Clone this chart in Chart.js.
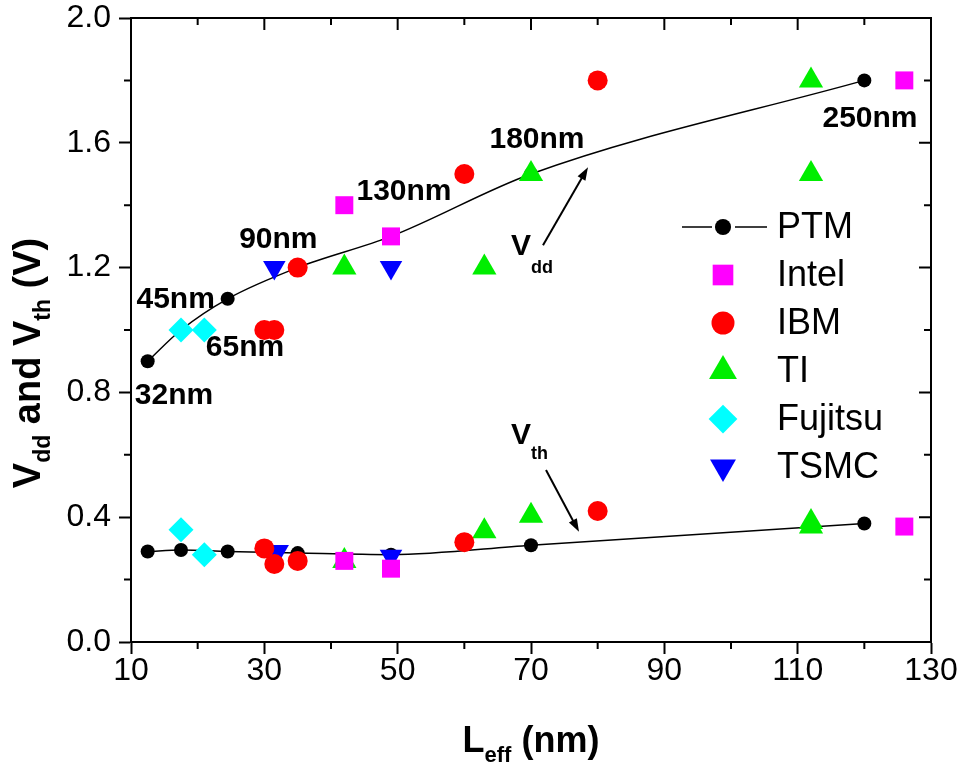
<!DOCTYPE html>
<html>
<head>
<meta charset="utf-8">
<script src="https://cdn.jsdelivr.net/npm/chart.js@4.4.0/dist/chart.umd.min.js"></script>
<style>
  html, body { margin: 0; padding: 0; background: #fff; }
  #wrap { width: 960px; height: 765px; }
</style>
</head>
<body>
<div id="wrap"><canvas id="chart" width="960" height="765"></canvas></div>
<script>
// effective channel length (nm) vs supply / threshold voltage (V)
const ptmLeff = [12.5, 17.5, 24.5, 35, 49, 70, 120]
const ptmVdd = [0.9, 1.0, 1.1, 1.2, 1.3, 1.5, 1.8]
const ptmVth = [0.29, 0.295, 0.29, 0.285, 0.28, 0.31, 0.38]

const intelLeff = [42, 49, 126, 42, 49, 126]
const intelV = [1.4, 1.3, 1.8, 0.26, 0.235, 0.37]

const ibmLeff = [30, 31.5, 35, 60, 80, 30, 31.5, 35, 60, 80]
const ibmV = [1.0, 1.0, 1.2, 1.5, 1.8, 0.3, 0.25, 0.26, 0.32, 0.42]

const tiLeff = [42, 63, 70, 112, 112, 42, 63, 70, 112, 112]
const tiV = [1.2, 1.2, 1.5, 1.8, 1.5, 0.26, 0.355, 0.405, 0.385, 0.37]

const fujitsuLeff = [17.5, 21, 17.5, 21]
const fujitsuV = [1.0, 1.0, 0.36, 0.28]

const tsmcLeff = [31.5, 49, 32, 49]
const tsmcV = [1.2, 1.2, 0.29, 0.275]

const xTicks = [10, 30, 50, 70, 90, 110, 130]
const yTicks = [0.0, 0.4, 0.8, 1.2, 1.6, 2.0]
const nodeLabels = ["32nm", "45nm", "65nm", "90nm", "130nm", "180nm", "250nm"]

const pts = (xs, ys) => xs.map((v, i) => ({ x: v, y: ys[i] }))
const midpoints = (arr) => arr.slice(1).map((v, i) => (v + arr[i]) / 2)

const FONT = "'Liberation Sans', Arial, sans-serif"
const NARROW = "'Liberation Sans Narrow', 'Arial Narrow', 'Liberation Sans', Arial, sans-serif"

// where the node names and arrows sit, in axis units
const nodeLabelAt = [[16.45, 0.79], [16.7, 1.096], [27.1, 0.942], [32.1, 1.288], [50.95, 1.442], [70.9, 1.609], [120.85, 1.676]]

function drawArrow(ctx, x0, y0, x1, y1) {
  const ang = Math.atan2(y1 - y0, x1 - x0)
  const head = 13
  ctx.beginPath()
  ctx.moveTo(x0, y0)
  ctx.lineTo(x1 - Math.cos(ang) * head * 0.8, y1 - Math.sin(ang) * head * 0.8)
  ctx.lineWidth = 2
  ctx.strokeStyle = "#000"
  ctx.stroke()
  ctx.beginPath()
  ctx.moveTo(x1, y1)
  ctx.lineTo(x1 - Math.cos(ang) * head + Math.sin(ang) * 4.5, y1 - Math.sin(ang) * head - Math.cos(ang) * 4.5)
  ctx.lineTo(x1 - Math.cos(ang) * head - Math.sin(ang) * 4.5, y1 - Math.sin(ang) * head + Math.cos(ang) * 4.5)
  ctx.closePath()
  ctx.fillStyle = "#000"
  ctx.fill()
}

// text with subscripts: parts = [[text, isSub], ...]
function subText(ctx, parts, x0, base, big, small, drop) {
  let cx = x0
  parts.forEach(([t, sub]) => {
    ctx.font = "bold " + (sub ? small : big) + "px " + FONT
    ctx.fillText(t, cx, sub ? base + drop : base)
    cx += ctx.measureText(t).width
  })
}
function subWidth(ctx, parts, big, small) {
  return parts.reduce((w, [t, sub]) => {
    ctx.font = "bold " + (sub ? small : big) + "px " + FONT
    return w + ctx.measureText(t).width
  }, 0)
}

function marker(ctx, ds, x, y, k) {
  const opts = {
    pointStyle: ds.pointStyle || "circle",
    radius: ds.pointRadius * k,
    rotation: ds.rotation || 0,
    borderWidth: 0
  }
  ctx.fillStyle = ds.pointBackgroundColor
  ctx.strokeStyle = ds.pointBackgroundColor
  Chart.helpers.drawPoint(ctx, opts, x, y)
}

const annotations = {
  id: "annotations",
  afterDraw(chart) {
    const { ctx, chartArea: a, scales: { x, y } } = chart
    ctx.save()

    // frame: top and right axes with inward ticks, minor ticks on all sides
    ctx.strokeStyle = "#000"
    ctx.lineWidth = 2
    ctx.beginPath()
    ctx.moveTo(a.left, a.top)
    ctx.lineTo(a.right, a.top)
    ctx.lineTo(a.right, a.bottom)
    ctx.stroke()
    ctx.beginPath()
    xTicks.forEach(v => {
      const px = x.getPixelForValue(v)
      ctx.moveTo(px, a.top); ctx.lineTo(px, a.top + 12)
    })
    midpoints(xTicks).forEach(v => {
      const px = x.getPixelForValue(v)
      ctx.moveTo(px, a.top); ctx.lineTo(px, a.top + 7)
      ctx.moveTo(px, a.bottom); ctx.lineTo(px, a.bottom + 7)
    })
    yTicks.forEach(v => {
      const py = y.getPixelForValue(v)
      ctx.moveTo(a.right, py); ctx.lineTo(a.right - 12, py)
    })
    midpoints(yTicks).forEach(v => {
      const py = y.getPixelForValue(v)
      ctx.moveTo(a.right, py); ctx.lineTo(a.right - 7, py)
      ctx.moveTo(a.left, py); ctx.lineTo(a.left - 7, py)
    })
    ctx.stroke()

    // node names
    ctx.fillStyle = "#000"
    ctx.font = "bold 30px " + FONT
    ctx.textAlign = "center"
    ctx.textBaseline = "middle"
    nodeLabels.forEach((t, i) => {
      ctx.fillText(t, x.getPixelForValue(nodeLabelAt[i][0]), y.getPixelForValue(nodeLabelAt[i][1]))
    })

    // Vdd / Vth callouts
    ctx.textAlign = "left"
    ctx.textBaseline = "alphabetic"
    subText(ctx, [["V", false], ["dd", true]], x.getPixelForValue(67.0), y.getPixelForValue(1.24), 30, 18, 18)
    subText(ctx, [["V", false], ["th", true]], x.getPixelForValue(67.0), y.getPixelForValue(0.635), 30, 18, 15)
    drawArrow(ctx, x.getPixelForValue(71.8), y.getPixelForValue(1.272), x.getPixelForValue(78.55), y.getPixelForValue(1.522))
    drawArrow(ctx, x.getPixelForValue(72.25), y.getPixelForValue(0.551), x.getPixelForValue(77.2), y.getPixelForValue(0.353))

    // axis titles
    ctx.fillStyle = "#000"
    const xt = [["L", false], ["eff", true], [" (nm)", false]]
    const xw = subWidth(ctx, xt, 36, 22)
    subText(ctx, xt, (a.left + a.right) / 2 - xw / 2, 752, 36, 22, 10)
    const yt = [["V", false], ["dd", true], [" and V", false], ["th", true], [" (V)", false]]
    const yw = subWidth(ctx, yt, 38, 23)
    ctx.save()
    ctx.translate(40, 363)
    ctx.rotate(-Math.PI / 2)
    subText(ctx, yt, -yw / 2, 0, 38, 23, 10)
    ctx.restore()

    // legend
    const mx = a.left + 592
    let ly = a.top + 209
    const rows = chart.data.datasets.filter(d => d.legend)
    rows.forEach(ds => {
      if (ds.showLine) {
        ctx.strokeStyle = "#000"
        ctx.lineWidth = 1.5
        ctx.beginPath()
        ctx.moveTo(mx - 41, ly); ctx.lineTo(mx - 11, ly)
        ctx.moveTo(mx + 12, ly); ctx.lineTo(mx + 44, ly)
        ctx.stroke()
      }
      marker(ctx, ds, mx, ly, 1.15)
      ctx.fillStyle = "#000"
      ctx.font = "36px " + FONT
      ctx.textAlign = "left"
      ctx.textBaseline = "middle"
      ctx.fillText(ds.label, mx + 54, ly + 1)
      ly += 48
    })
    ctx.restore()
  }
}

const scatter = (label, xs, ys, color, style, r, order, extra) => Object.assign({
  label,
  data: pts(xs, ys),
  showLine: false,
  pointStyle: style,
  pointRadius: r,
  pointBackgroundColor: color,
  pointBorderColor: color,
  pointBorderWidth: 0,
  legend: true,
  order
}, extra || {})

new Chart(document.getElementById("chart"), {
  type: "scatter",
  data: {
    datasets: [
      {
        label: "PTM",
        data: pts(ptmLeff, ptmVdd),
        showLine: true,
        borderColor: "#000",
        borderWidth: 1.5,
        cubicInterpolationMode: "monotone",
        pointStyle: "circle",
        pointRadius: 7,
        pointBackgroundColor: "#000",
        pointBorderColor: "#000",
        pointBorderWidth: 0,
        legend: true,
        order: 6
      },
      scatter("Intel", intelLeff, intelV, "#ff00ff", "rect", 12.7, 2),
      scatter("IBM", ibmLeff, ibmV, "#ff0000", "circle", 10, 1),
      scatter("TI", tiLeff, tiV, "#00ee00", "triangle", 14, 4),
      scatter("Fujitsu", fujitsuLeff, fujitsuV, "#00ffff", "rectRot", 12.5, 3),
      scatter("TSMC", tsmcLeff, tsmcV, "#0000ff", "triangle", 13, 5, { rotation: 180 }),
      {
        label: "PTM Vth",
        data: pts(ptmLeff, ptmVth),
        showLine: true,
        borderColor: "#000",
        borderWidth: 1.5,
        cubicInterpolationMode: "monotone",
        pointStyle: "circle",
        pointRadius: 7,
        pointBackgroundColor: "#000",
        pointBorderColor: "#000",
        pointBorderWidth: 0,
        order: 6
      }
    ]
  },
  options: {
    responsive: false,
    animation: false,
    events: [],
    layout: { padding: { top: 18, right: 29, left: 0, bottom: 0 } },
    plugins: { legend: { display: false }, tooltip: { enabled: false } },
    scales: {
      x: {
        type: "linear",
        min: 10,
        max: 130,
        afterBuildTicks: s => { s.ticks = xTicks.map(v => ({ value: v })) },
        afterFit: s => { s.height = 123; s.paddingLeft = 0; s.paddingRight = 0 },
        ticks: { color: "#000", font: { family: NARROW, size: 32, lineHeight: 1 }, padding: 1, maxRotation: 0, autoSkip: false },
        grid: { drawOnChartArea: false, drawTicks: true, tickLength: 12, tickWidth: 2, tickColor: "#000" },
        border: { display: true, color: "#000", width: 2 }
      },
      y: {
        type: "linear",
        min: 0,
        max: 2,
        afterBuildTicks: s => { s.ticks = yTicks.map(v => ({ value: v })) },
        afterFit: s => { s.width = 131; s.paddingTop = 0; s.paddingBottom = 0 },
        ticks: { color: "#000", font: { family: NARROW, size: 32, lineHeight: 1 }, padding: 8, autoSkip: false, callback: v => Number(v).toFixed(1) },
        grid: { drawOnChartArea: false, drawTicks: true, tickLength: 12, tickWidth: 2, tickColor: "#000" },
        border: { display: true, color: "#000", width: 2 }
      }
    }
  },
  plugins: [annotations]
})
</script>
</body>
</html>
